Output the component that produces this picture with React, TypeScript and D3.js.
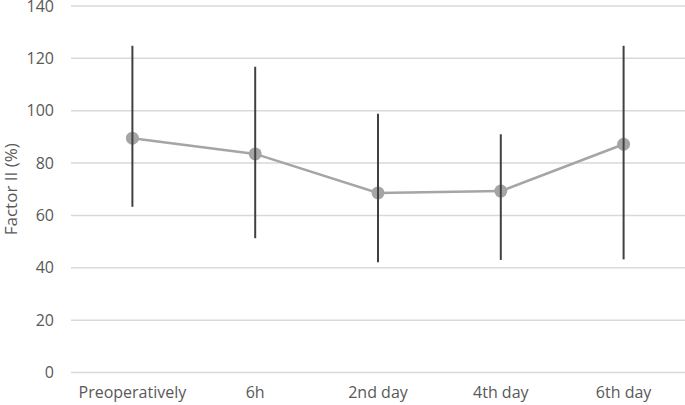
import * as d3 from 'd3';

const categories = ['Preoperatively', '6h', '2nd day', '4th day', '6th day'];
const means = [89.5, 83.5, 68.6, 69.3, 87.2];
const upper = [124.8, 116.8, 98.8, 91.0, 124.8];
const lower = [63.3, 51.3, 42.1, 43.0, 43.2];
const yTicks = [0, 20, 40, 60, 80, 100, 120, 140];

const W = 685;
const H = 405;
const margin = { top: 6, right: 0, bottom: 32.5, left: 71 };
const font = "'Open Sans', sans-serif";

export default function App() {
  const x = d3
    .scaleBand()
    .domain(categories)
    .range([margin.left, W - margin.right]);
  const y = d3
    .scaleLinear()
    .domain([0, 140])
    .range([H - margin.bottom, margin.top]);

  const cx = (c: string) => (x(c) ?? 0) + x.bandwidth() / 2;

  const line = d3
    .line<number>()
    .x((_, i) => cx(categories[i]))
    .y((d) => y(d));

  return (
    <svg
      width={W}
      height={H}
      style={{ position: 'absolute', left: 0, top: 0, background: '#fff' }}
    >
      {yTicks.map((t) => (
        <g key={t}>
          <line
            x1={margin.left}
            x2={W}
            y1={y(t)}
            y2={y(t)}
            stroke="#d9d9d9"
            strokeWidth={1.5}
          />
          <text
            x={54}
            y={y(t)}
            dy="0.35em"
            textAnchor="end"
            fontFamily={font}
            fontSize={16}
            fill="#595959"
          >
            {t}
          </text>
        </g>
      ))}
      <text
        transform={`translate(17,${y(70)}) rotate(-90)`}
        textAnchor="middle"
        fontFamily={font}
        fontSize={17}
        fill="#595959"
      >
        Factor II (%)
      </text>
      {categories.map((c) => (
        <text
          key={c}
          x={cx(c)}
          y={398}
          textAnchor="middle"
          fontFamily={font}
          fontSize={16}
          fill="#595959"
        >
          {c}
        </text>
      ))}
      <path
        d={line(means) ?? ''}
        fill="none"
        stroke="#a5a5a5"
        strokeWidth={2.5}
      />
      {means.map((m, i) => (
        <circle key={i} cx={cx(categories[i])} cy={y(m)} r={6.5} fill="#a5a5a5" />
      ))}
      {categories.map((c, i) => (
        <line
          key={c}
          x1={cx(c)}
          x2={cx(c)}
          y1={y(upper[i])}
          y2={y(lower[i])}
          stroke="#404040"
          strokeWidth={2}
        />
      ))}
    </svg>
  );
}
